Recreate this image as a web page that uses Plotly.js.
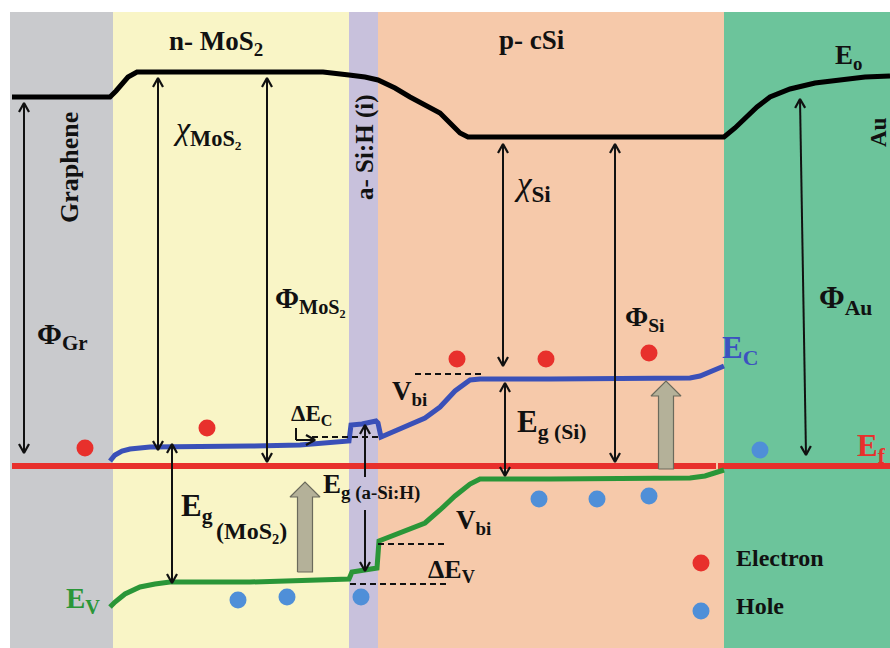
<!DOCTYPE html>
<html><head><meta charset="utf-8">
<script src="https://cdn.plot.ly/plotly-3.0.1.min.js"></script>
<style>html,body{margin:0;padding:0;background:#fff}#chart{width:890px;height:648px}</style>
</head><body><div id="chart"></div>
<script>
// ---- Layers of the stack (position bounds) ----
const layerNames = ['Graphene', 'n- MoS2', 'a- Si:H (i)', 'p- cSi', 'Au'];
const layerStart = [10, 113, 349, 378, 724];
const layerEnd   = [113, 349, 378, 724, 890];

// ---- Vacuum level E0 (energy drawn downward) ----
const vacX = [12, 110, 116, 122, 128, 137, 200, 323, 349, 365, 378, 395, 410, 425, 440, 450, 460, 468, 600, 724, 735, 745, 757, 770, 790, 815, 840, 865, 890];
const vacY = [97, 97, 91, 84, 77, 72, 72, 72, 75, 77, 80, 88, 97, 105, 113, 123, 133, 137, 137, 137, 128, 118, 107, 97, 89, 83, 80, 77, 76];

// ---- Conduction band Ec ----
const cbX = [110, 115, 122, 130, 150, 200, 250, 300, 330, 349, 351, 362, 376, 378, 381, 395, 410, 425, 440, 455, 470, 480, 550, 650, 690, 700, 712, 724];
const cbY = [461, 455, 451, 449, 447, 447, 446, 445, 443, 441, 425, 424, 421, 423, 437, 431, 425, 418, 407, 391, 380, 379, 379, 379, 378, 376, 371, 366];

// ---- Valence band Ev ----
const vbX = [110, 115, 125, 140, 155, 170, 250, 330, 349, 352, 365, 377, 379, 392, 410, 425, 440, 455, 470, 480, 550, 650, 690, 705, 715, 724];
const vbY = [607, 602, 594, 587, 584, 582, 582, 580, 579, 572, 570, 568, 541, 536, 530, 523, 510, 496, 484, 479, 479, 479, 478, 476, 473, 470];

// ---- Fermi level Ef ----
const efX = [12, 716, null, 718, 890];
const efY = [466, 466, null, 466, 466];

// ---- Carriers ----
const electronX = [85, 207, 457, 546, 649];
const electronY = [448, 428, 359, 359, 353];
const holeX = [238, 287, 361, 539, 597, 649, 760];
const holeY = [600, 597, 597, 499, 499, 496, 450];

// ---- Energy-gap arrows (both heads) ----
const arrowNames = ['PhiGr', 'chiMoS2', 'PhiMoS2', 'EgMoS2', 'chiSi', 'EgSi', 'PhiSi', 'PhiAu'];
const arrowXTop = [24, 158, 267, 172, 503, 505, 615, 800];
const arrowXBot = [24, 158, 267, 172, 503, 505, 615, 806];
const arrowYTop = [103, 78, 78, 444, 144, 383, 144, 99];
const arrowYBot = [453, 450, 462, 583, 366, 476, 462, 455];

// ---- Single-head arrows: a-Si:H gap (up, down) and ΔEc pointer ----
const singleTailX = [365, 365, 296];
const singleTailY = [477, 510, 440];
const singleHeadX = [365, 365, 315];
const singleHeadY = [425, 571, 440];

// ---- Dashed reference levels ----
const dashX0 = [312, 415, 378, 350];
const dashX1 = [378, 482, 447, 447];
const dashY  = [437, 374, 544, 584];

// ---- Photo-excitation arrows ----
const photoX = [305, 666];
const photoTip = [482, 381];
const photoBottom = [572, 469];

// ---- Legend ----
const legendLabels = ['Electron', 'Hole'];
const legendY = [563, 611];

const FONT = 'Liberation Serif, Times New Roman, serif';
const layerColors = ['#c9cacd', '#f9f5c6', '#c8c1dc', '#f6c9aa', '#6cc49b'];

const shapes = layerStart.map((s, i) => ({
  type: 'rect', xref: 'x', yref: 'y', x0: s, x1: layerEnd[i], y0: 12, y1: 648,
  fillcolor: layerColors[i], line: {width: 0}, layer: 'below'
}));
dashY.forEach((y, i) => shapes.push({
  type: 'line', xref: 'x', yref: 'y', x0: dashX0[i], x1: dashX1[i], y0: y, y1: y,
  line: {color: '#111', width: 2, dash: '6px,4px'}
}));
// small L-shaped pointer stem for ΔEc
shapes.push({type: 'line', xref: 'x', yref: 'y', x0: 296, x1: 296, y0: 428, y1: 440, line: {color: '#111', width: 2}});

const traces = [];
traces.push({x: vacX, y: vacY, mode: 'lines', line: {color: '#000', width: 5}, hoverinfo: 'skip'});
traces.push({x: efX, y: efY, mode: 'lines', line: {color: '#e8302c', width: 6}, hoverinfo: 'skip'});
traces.push({x: cbX, y: cbY, mode: 'lines', line: {color: '#3a50b8', width: 5}, hoverinfo: 'skip'});
traces.push({x: vbX, y: vbY, mode: 'lines', line: {color: '#2a9638', width: 5}, hoverinfo: 'skip'});

// arrows: shafts and open chevron heads
const ax = [], ay = [], hx = [], hy = [];
function head(tx, ty, px, py) {
  const dx = px - tx, dy = py - ty, L = Math.hypot(dx, dy), ux = dx / L, uy = dy / L;
  const len = 9, w = 5;
  hx.push(px - len * ux - w * uy, px, px - len * ux + w * uy, null);
  hy.push(py - len * uy + w * ux, py, py - len * uy - w * ux, null);
}
arrowNames.forEach((n, i) => {
  ax.push(arrowXBot[i], arrowXTop[i], null); ay.push(arrowYBot[i], arrowYTop[i], null);
  head(arrowXBot[i], arrowYBot[i], arrowXTop[i], arrowYTop[i]);
  head(arrowXTop[i], arrowYTop[i], arrowXBot[i], arrowYBot[i]);
});
singleTailX.forEach((t, i) => {
  ax.push(t, singleHeadX[i], null); ay.push(singleTailY[i], singleHeadY[i], null);
  head(t, singleTailY[i], singleHeadX[i], singleHeadY[i]);
});
traces.push({x: ax, y: ay, mode: 'lines', line: {color: '#111', width: 2}, hoverinfo: 'skip'});
traces.push({x: hx, y: hy, mode: 'lines', line: {color: '#111', width: 2.2}, hoverinfo: 'skip'});

photoX.forEach((cx, i) => {
  const tip = photoTip[i], bot = photoBottom[i], hb = tip + 15, hw = 7.5, HW = 15;
  traces.push({
    x: [cx - hw, cx - hw, cx - HW, cx, cx + HW, cx + hw, cx + hw, cx - hw],
    y: [bot, hb, hb, tip, hb, hb, bot, bot],
    mode: 'lines', fill: 'toself', fillcolor: '#b4b199', line: {color: '#6b6a5c', width: 1.2}, hoverinfo: 'skip'
  });
});

traces.push({x: electronX, y: electronY, mode: 'markers', marker: {color: '#e8302c', size: 17}, hoverinfo: 'skip'});
traces.push({x: holeX, y: holeY, mode: 'markers', marker: {color: '#4f8fd8', size: 17}, hoverinfo: 'skip'});
traces.push({x: [701, 701], y: legendY, mode: 'markers', marker: {color: ['#e8302c', '#4f8fd8'], size: 17}, hoverinfo: 'skip'});

const ann = [];
function T(text, x, y, size, opts) {
  return Object.assign({xref: 'x', yref: 'y', x: x, y: y, text: text, showarrow: false,
    xanchor: 'center', yanchor: 'middle', font: {family: FONT, size: size, color: '#111'}}, opts || {});
}
ann.push(T('<b>n- MoS<sub>2</sub></b>', 216, 43, 27));
ann.push(T('<b>p- cSi</b>', 532, 40, 27));
ann.push(T('<b>E<sub>o</sub></b>', 848, 57, 27));
ann.push(T('<b>' + layerNames[0] + '</b>', 69, 168, 26, {textangle: -90}));
ann.push(T('<b>' + layerNames[2] + '</b>', 365, 147, 25, {textangle: -90}));
ann.push(T('<b>' + layerNames[4] + '</b>', 878, 132, 23, {textangle: -90}));
ann.push(T('<i>χ</i><b><sub>MoS₂</sub></b>', 207, 130, 32));
ann.push(T('<b>Φ<sub>MoS₂</sub></b>', 310, 300, 29));
ann.push(T('<b>Φ<sub>Gr</sub></b>', 62, 336, 30));
ann.push(T('<i>χ</i><b><sub>Si</sub></b>', 532, 186, 33));
ann.push(T('<b>Φ<sub>Si</sub></b>', 645, 318, 28));
ann.push(T('<b>Φ<sub>Au</sub></b>', 845, 300, 31));
ann.push(T('<b>E<sub>C</sub></b>', 740, 350, 31, {font: {family: FONT, size: 31, color: '#3c52c0'}}));
ann.push(T('<b>E<sub>f</sub></b>', 871, 448, 31, {font: {family: FONT, size: 31, color: '#e8302c'}}));
ann.push(T('<b>E<sub>V</sub></b>', 83, 600, 29, {font: {family: FONT, size: 29, color: '#2a9638'}}));
ann.push(T('<b>E<sub>g (Si)</sub></b>', 551, 424, 31));
ann.push(T('<b>E<sub>g</sub></b>', 197, 508, 31));
ann.push(T('<b>(MoS₂)</b>', 214, 531, 24, {xanchor: 'left'}));
ann.push(T('<b>E<sub>g (a-Si:H)</sub></b>', 321, 486, 27, {xanchor: 'left'}));
ann.push(T('<b>ΔE<sub>C</sub></b>', 311, 415, 23));
ann.push(T('<b>ΔE<sub>V</sub></b>', 451, 571, 26));
ann.push(T('<b>V<sub>bi</sub></b>', 409, 393, 27));
ann.push(T('<b>V<sub>bi</sub></b>', 473, 522, 27));
legendLabels.forEach((l, i) => ann.push(T('<b>' + l + '</b>', 734, legendY[i] - 5, 24, {xanchor: 'left'})));

const layout = {
  width: 890, height: 648, margin: {l: 0, r: 0, t: 0, b: 0},
  paper_bgcolor: '#ffffff', plot_bgcolor: '#ffffff', showlegend: false,
  xaxis: {range: [0, 890], visible: false, fixedrange: true},
  yaxis: {range: [648, 0], visible: false, fixedrange: true},
  shapes: shapes, annotations: ann, hovermode: false
};
Plotly.newPlot('chart', traces, layout, {staticPlot: true, displayModeBar: false});
</script></body></html>
